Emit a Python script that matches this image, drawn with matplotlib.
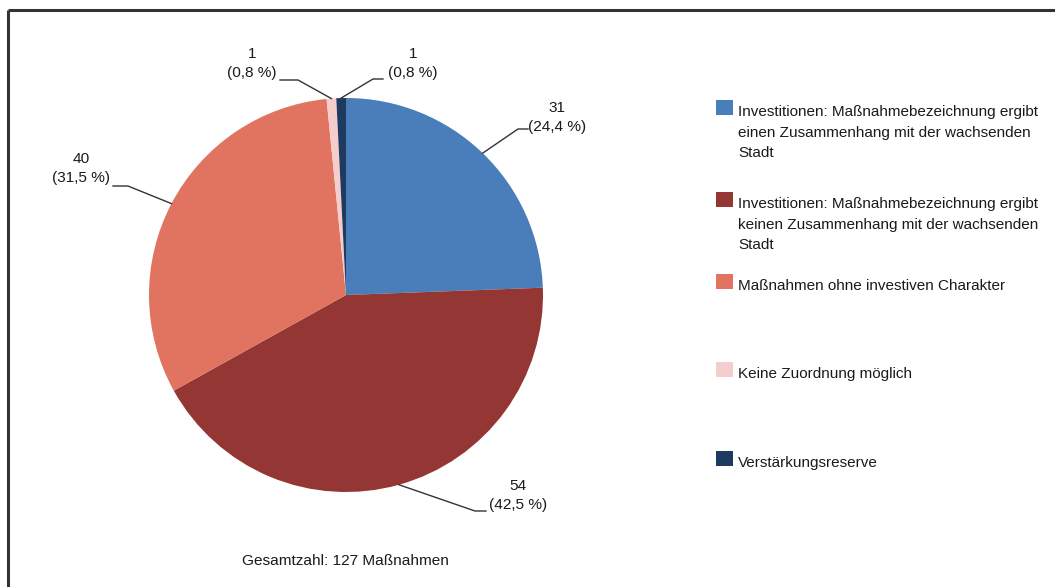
import matplotlib
matplotlib.use("Agg")
import matplotlib.pyplot as plt
import numpy as np
from matplotlib.patches import Rectangle

# data
categories = [
    "Investitionen: Maßnahmebezeichnung ergibt\neinen Zusammenhang mit der wachsenden\nStadt",
    "Investitionen: Maßnahmebezeichnung ergibt\nkeinen Zusammenhang mit der wachsenden\nStadt",
    "Maßnahmen ohne investiven Charakter",
    "Keine Zuordnung möglich",
    "Verstärkungsreserve",
]
counts = [31, 54, 40, 1, 1]
colors = ["#4A7EBB", "#943634", "#E07460", "#F5CDCC", "#1F3A5F"]
footer = "Gesamtzahl: 127 Maßnahmen"

plt.rcParams['font.family'] = ['Liberation Sans', 'DejaVu Sans']
FS_LAB = 11.1
FS_LEG = 11.0
TXT = "#1a1a1a"
LINE = "#333333"

W, H = 1055, 587
fig = plt.figure(figsize=(W / 100, H / 100), dpi=100)
ax = fig.add_axes([0, 0, 1, 1])

cx, cy, r = 346, 295, 197
# y axis is inverted below, so counterclock=True draws clockwise on screen
wedges, _ = ax.pie(counts, colors=colors, startangle=-90, counterclock=True,
                   center=(cx, cy), radius=r, frame=True,
                   wedgeprops=dict(linewidth=0))
ax.set_xlim(0, W)
ax.set_ylim(H, 0)  # pixel coords, y down
ax.axis("off")

total = sum(counts)
# label layout: (text x, baseline of first line, elbow x, elbow y, end x, end y)
label_layout = [
    (557, 112, 518, 129, 528, 129),
    (518, 490, 475, 511, 486, 511),
    (81, 163, 128, 186, 113, 186),
    (252, 58, 298, 80, 280, 80),
    (413, 58, 373, 79, 383, 79),
]
pitch = 19
for w, v, lay in zip(wedges, counts, label_layout):
    mid = np.deg2rad((w.theta1 + w.theta2) / 2)
    px = cx + r * np.cos(mid)
    py = cy + r * np.sin(mid)
    tx, ty, ex, ey, hx, hy = lay
    ax.plot([px, ex, hx], [py, ey, hy], color=LINE, lw=1.0)
    pct = f"{v / total * 100:.1f}".replace(".", ",")
    ax.text(tx, ty, f"{v}", ha="center", va="baseline", fontsize=FS_LAB, color=TXT)
    ax.text(tx, ty + pitch, f"({pct} %)", ha="center", va="baseline",
            fontsize=FS_LAB, color=TXT)

# legend
leg_base = [116, 208, 290, 378, 467]
leg_pitch = 20.5
for lab, c, yb in zip(categories, colors, leg_base):
    ax.add_patch(Rectangle((716, yb - 16), 17, 15, facecolor=c, edgecolor="none"))
    for i, line in enumerate(lab.split("\n")):
        ax.text(738, yb + i * leg_pitch, line, ha="left", va="baseline",
                fontsize=FS_LEG, color=TXT)

ax.text(345, 565, footer, ha="center", va="baseline", fontsize=FS_LAB, color=TXT)

# border (top + left only, cropped frame)
ax.plot([8, W], [10, 10], color=LINE, lw=2.2, solid_capstyle="butt")
ax.plot([8, 8], [10, H], color=LINE, lw=2.2, solid_capstyle="butt")

fig.savefig("out.png", dpi=100, facecolor="white")
